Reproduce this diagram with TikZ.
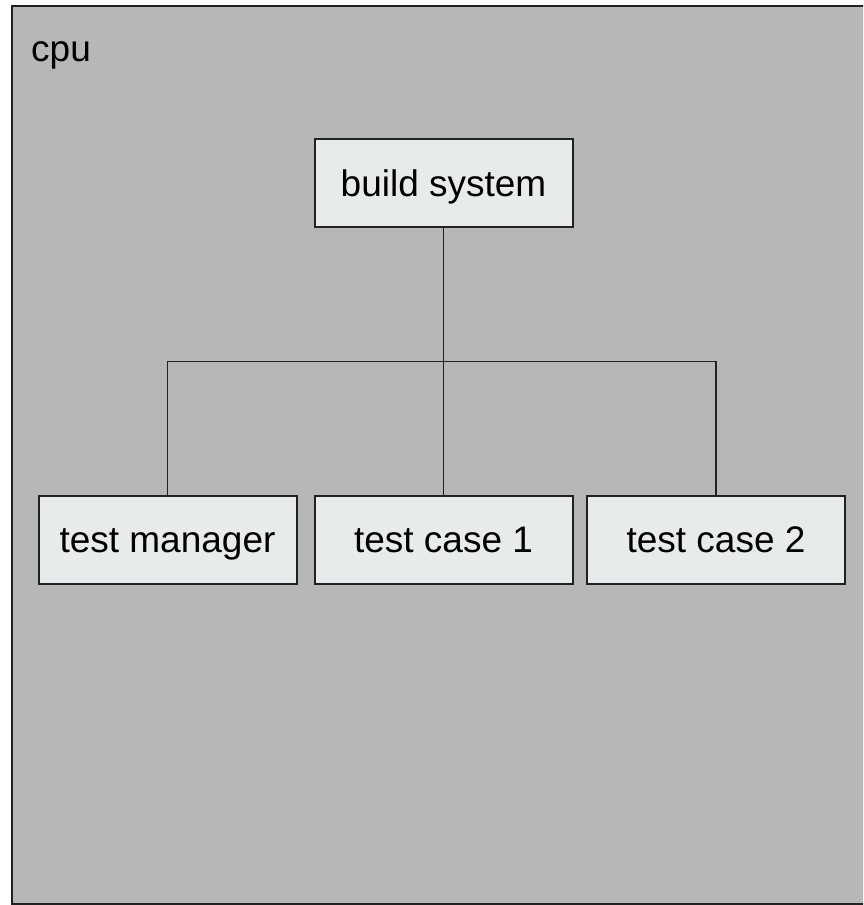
\documentclass[tikz,border=0pt]{standalone}
\usepackage{fontspec}
\setmainfont{Liberation Sans}
\definecolor{panelgrey}{HTML}{B7B7B7}
\definecolor{boxfill}{HTML}{E8EBEC}
\definecolor{edge}{HTML}{222222}
\begin{document}
\begin{tikzpicture}[x=1pt,y=-1pt,
  unit/.style={draw=edge,line width=2pt,fill=boxfill,minimum width=258pt,
    minimum height=88pt,inner sep=0pt,text height=26.5pt,text depth=0pt,
    font=\fontsize{37}{44}\selectfont,text=black},
  wire/.style={draw=edge,line width=1.8pt}]
  \useasboundingbox (0,0) rectangle (863,905);
  \clip (0,0) rectangle (863,905);
  % outer cpu panel, running past the right edge
  \draw[draw=edge,line width=2pt,fill=panelgrey] (11.5,5.5) rectangle (880,903.5);
  \node[anchor=base west,font=\fontsize{37}{44}\selectfont,inner sep=0pt] (cpu) at (31,61.5) {cpu};
  % components
  \node[unit] (build) at (443.5,183) {build system};
  \node[unit] (tm) at (167.5,539.5) {test manager};
  \node[unit] (tc1) at (443.5,539.5) {test case 1};
  \node[unit] (tc2) at (716,539.5) {test case 2};
  % tree connectors
  \coordinate (j) at (443.5,361.5);
  \draw[wire] (build.south) -- (j);
  \draw[wire] (tm.north) |- (j) -| (tc2.north);
  \draw[wire] (j) -- (tc1.north);
\end{tikzpicture}
\end{document}
